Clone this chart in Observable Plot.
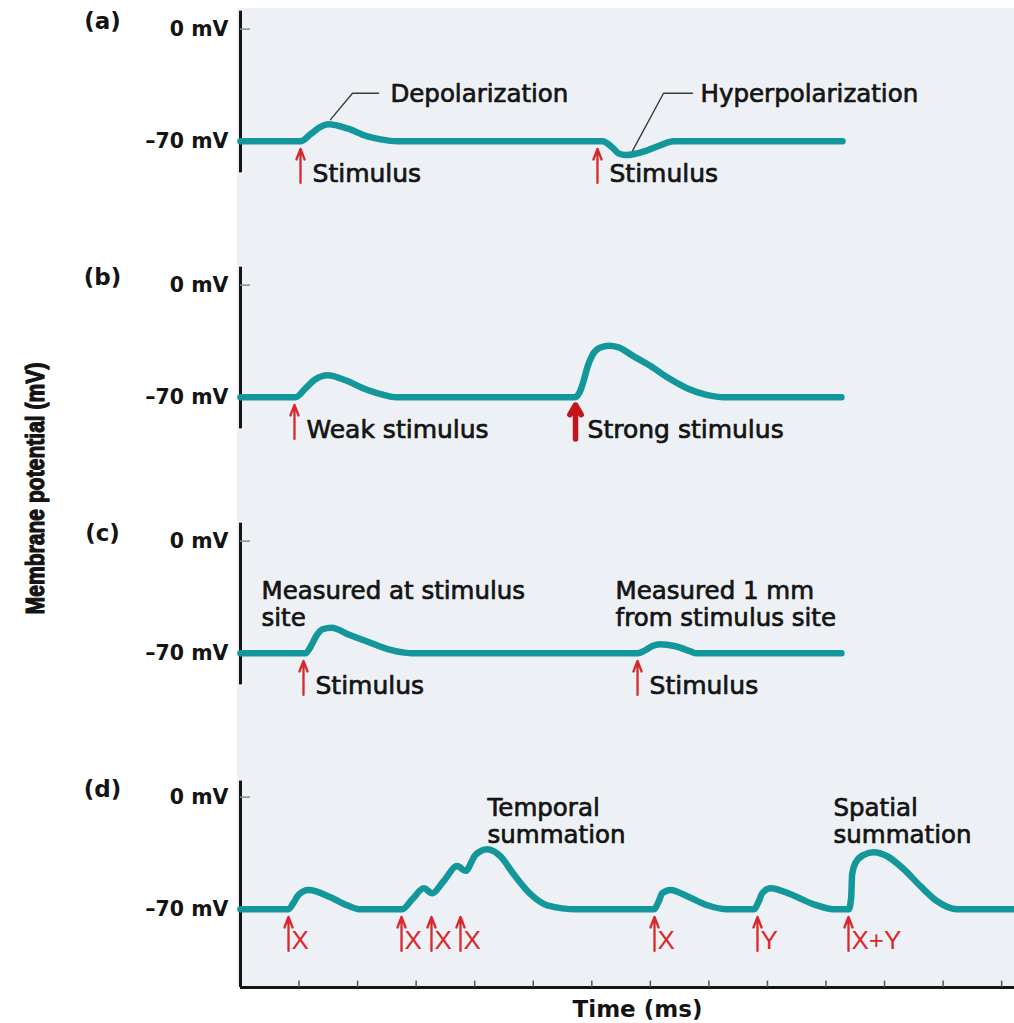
<!DOCTYPE html>
<html>
<head>
<meta charset="utf-8">
<script src="https://cdn.jsdelivr.net/npm/d3@7"></script>
<script src="https://cdn.jsdelivr.net/npm/@observablehq/plot@0.6"></script>
<style>
  body { margin: 0; background: #ffffff; }
  #chart { width: 1014px; height: 1023px; }
</style>
</head>
<body>
<div id="chart"></div>
<script>
// ---------- data ----------
const panels = ["a", "b", "c", "d"];
const panelLabels = ["(a)", "(b)", "(c)", "(d)"];
const yTicks = [0, -70];
const yTickLabels = ["0 mV", "–70 mV"];
const timeTicks = [1, 2, 3, 4, 5, 6, 7, 8, 9, 10, 11, 12, 13];

// membrane potential traces: [time, mV]
const curveA = [[0,-70],[1.025,-70],[1.196,-65.6],[1.366,-61],[1.503,-59.4],[1.827,-62],[2.169,-67],[2.391,-68.8],[2.681,-70],
  [6.183,-70],[6.354,-74],[6.456,-77.5],[6.576,-78.6],[6.951,-75.6],[7.173,-72.5],[7.395,-70],[10.282,-70]];
const curveB = [[0,-70],[0.939,-70],[1.110,-64.4],[1.281,-58.8],[1.486,-56.3],[1.793,-59.4],[2.135,-65],[2.391,-68],[2.664,-70],
  [5.705,-70],[5.790,-67],[5.858,-60],[5.927,-51],[6.012,-43.5],[6.132,-39.2],[6.285,-37.8],[6.456,-38.8],[6.695,-44],
  [7.003,-50.5],[7.310,-58],[7.635,-64.5],[7.959,-68.5],[8.267,-70],[10.264,-70]];
const curveC = [[0,-70],[1.110,-70],[1.196,-66],[1.298,-59],[1.400,-55],[1.554,-54],[1.855,-58.4],[2.186,-63],[2.528,-67.5],[2.801,-69.6],[2.938,-70],
  [6.781,-70],[6.917,-68],[7.036,-65.5],[7.156,-64.4],[7.429,-65.6],[7.686,-68.8],[7.788,-70],[10.264,-70]];
const curveD = [[0,-70],[0.820,-70],[0.905,-66],[0.991,-61],[1.161,-58],[1.537,-62.5],[1.822,-67.5],[2.050,-70],
  [2.762,-70],[2.933,-63.75],[3.131,-56.9],[3.274,-60],[3.467,-52.5],[3.701,-43],[3.843,-46],[4.014,-36],[4.214,-32.5],
  [4.441,-37],[4.663,-48],[4.953,-60.6],[5.238,-67.5],[5.751,-70],
  [7.059,-70],[7.144,-65],[7.202,-60],[7.344,-58],[7.629,-61.9],[7.971,-67.5],[8.313,-70],
  [8.767,-70],[8.852,-65],[8.910,-60],[9.052,-56.9],[9.394,-60.6],[9.792,-66.9],[10.133,-70],
  [10.389,-70],[10.430,-62.5],[10.447,-48],[10.504,-41],[10.646,-36],[10.816,-34.4],[11.045,-36.9],[11.329,-45],
  [11.614,-55.6],[11.899,-65],[12.241,-70],[13.22,-70]];

// stimuli: panel, time, label, kind
const stimuli = [
  {panel: "a", t: 1.025, label: "Stimulus", kind: "normal"},
  {panel: "a", t: 6.097, label: "Stimulus", kind: "normal"},
  {panel: "b", t: 0.922, label: "Weak stimulus", kind: "normal"},
  {panel: "b", t: 5.722, label: "Strong stimulus", kind: "strong"},
  {panel: "c", t: 1.076, label: "Stimulus", kind: "normal"},
  {panel: "c", t: 6.781, label: "Stimulus", kind: "normal"},
  {panel: "d", t: 0.820, label: "X", kind: "normal"},
  {panel: "d", t: 2.750, label: "X", kind: "normal"},
  {panel: "d", t: 3.262, label: "X", kind: "normal"},
  {panel: "d", t: 3.757, label: "X", kind: "normal"},
  {panel: "d", t: 7.071, label: "X", kind: "normal"},
  {panel: "d", t: 8.830, label: "Y", kind: "normal"},
  {panel: "d", t: 10.384, label: "X+Y", kind: "normal"}
];

// annotations
const notePanels = ["a", "a", "c", "c", "d", "d"];
const noteTimes = [2.56, 7.857, 0.359, 6.405, 4.219, 10.128];
const noteValues = [-40, -40, -39, -39, -14.7, -14.7];
const noteTexts = ["Depolarization", "Hyperpolarization", "Measured at stimulus\nsite",
  "Measured 1 mm\nfrom stimulus site", "Temporal\nsummation", "Spatial\nsummation"];
const leaderDepol = [[1.537, -56.5], [1.913, -40], [2.357, -40]];
const leaderHyper = [[6.695, -76], [7.225, -40], [7.72, -40]];

// ---------- layout / style ----------
const W = 1014, H = 1023;
const mT = 9, mB = 36, mL = 240, mR = 0;
const PX_PER_MV = 1.6;
const PX_PER_MS = 58.55;
const step = 256.1;
const plotH = H - mT - mB;
const padInner = panels.length - plotH / step;
const bw = step * (1 - padInner);
const yTop = 19.6 / PX_PER_MV;
const yBot = yTop - bw / PX_PER_MV;
const gapMV = (step - bw) / PX_PER_MV;
const tMax = (W - mL - mR) / PX_PER_MS;
const tBg = -3 / PX_PER_MS;

const TEAL = "#14979a", RED = "#d8282d", DARKRED = "#c2141a", INK = "#141414", BG = "#edf1f5";
const SANS = "'DejaVu Sans', 'Liberation Sans', sans-serif";

const curveTable = [
  ...curveA.map(([t, v]) => ({panel: "a", t, v})),
  ...curveB.map(([t, v]) => ({panel: "b", t, v})),
  ...curveC.map(([t, v]) => ({panel: "c", t, v})),
  ...curveD.map(([t, v]) => ({panel: "d", t, v}))
];
const notes = notePanels.map((p, i) => ({panel: p, t: noteTimes[i], v: noteValues[i], text: noteTexts[i]}));
const leaders = [
  ...leaderDepol.map(([t, v]) => ({panel: "a", id: "dep", t, v})),
  ...leaderHyper.map(([t, v]) => ({panel: "a", id: "hyp", t, v}))
];
const panelRows = panels.map((p, i) => ({panel: p, label: panelLabels[i]}));
const blackStim = stimuli.filter(d => d.panel !== "d");
const redStim = stimuli.filter(d => d.panel === "d");
const arrowBottom = -96, arrowTop = -96 + 34 / PX_PER_MV;

// fit the rotated y label to its measured length
const yLabelText = "Membrane potential (mV)";
const yLabelFamily = "'Liberation Sans Narrow', 'Liberation Sans', sans-serif";
function fitSize(text, family, weight, target, base) {
  const ctx = document.createElement("canvas").getContext("2d");
  ctx.font = `${weight} ${base}px ${family}`;
  return base * target / ctx.measureText(text).width;
}
const yLabelSize = Math.min(27, fitSize(yLabelText, yLabelFamily, "bold", 252, 26));
const yLabelStretch = Math.max(1, Math.min(1.3, 20 / (yLabelSize * 0.72 + 0.01) * 0.92));

const chart = Plot.plot({
  width: W, height: H,
  marginTop: mT, marginBottom: mB, marginLeft: mL, marginRight: mR,
  style: {fontFamily: SANS, background: "transparent", overflow: "visible"},
  x: {domain: [0, tMax], axis: null},
  y: {domain: [yBot, yTop]},
  fy: {domain: panels, paddingInner: padInner, paddingOuter: 0, axis: null, label: null},
  marks: [
    // panel background
    Plot.rect(panelRows, {fy: "panel", x1: tBg, x2: tMax,
      y1: d => d.panel === "d" ? yBot : yBot - gapMV - 0.5, y2: yTop + 0.5, fill: BG}),
    // y axis lines
    Plot.ruleX(panelRows, {fy: "panel", x: 0,
      y1: d => d.panel === "d" ? yBot : -89.7, y2: d => d.panel === "d" ? 10 : 11.2,
      stroke: INK, strokeWidth: 3}),
    // y ticks (inside)
    Plot.ruleY(yTicks, {y: d => d, x1: 0, x2: 0.17, stroke: "#8a8a8a", strokeWidth: 1.5}),
    // x axis line and ticks (bottom panel only)
    Plot.ruleY([{panel: "d"}], {fy: "panel", y: yBot, x1: 0, x2: tMax, stroke: INK, strokeWidth: 3}),
    Plot.ruleX(timeTicks.map(t => ({panel: "d", t})), {fy: "panel", x: "t", y1: yBot, y2: yBot + 4,
      stroke: "#555", strokeWidth: 1.5}),
    // leader lines
    Plot.line(leaders, {fy: "panel", x: "t", y: "v", z: "id", stroke: "#3a3a3a", strokeWidth: 1.4}),
    // traces
    Plot.line(curveTable, {fy: "panel", x: "t", y: "v", z: "panel", stroke: TEAL, strokeWidth: 6.5,
      curve: "monotone-x", strokeLinecap: "round", strokeLinejoin: "round"}),
    // stimulus arrows
    Plot.arrow(stimuli.filter(d => d.kind === "normal"), {fy: "panel", x: "t", y1: arrowBottom, y2: arrowTop,
      stroke: RED, strokeWidth: 2.3, headLength: 8, headAngle: 42}),
    Plot.arrow(stimuli.filter(d => d.kind === "strong"), {fy: "panel", x: "t", y1: arrowBottom, y2: arrowTop,
      stroke: DARKRED, strokeWidth: 5.5, headLength: 3.2, headAngle: 60}),
    // stimulus labels
    Plot.text(blackStim, {fy: "panel", x: "t", y: -90.3, text: "label", dx: 12, textAnchor: "start",
      lineAnchor: "middle", fontSize: 25, fill: INK, stroke: INK, strokeWidth: 0.7}),
    Plot.text(redStim, {fy: "panel", x: "t", y: -89.5, text: "label", dx: 3, textAnchor: "start",
      lineAnchor: "middle", fontSize: 26, fontFamily: "'Liberation Sans', Arial, sans-serif", fill: RED}),
    // annotations
    Plot.text(notes, {fy: "panel", x: "t", y: "v", text: "text", textAnchor: "start", lineAnchor: "middle",
      lineHeight: 1.09, fontSize: 24.5, fill: INK, stroke: INK, strokeWidth: 0.7}),
    // y tick labels
    Plot.axisY({ticks: yTicks, tickFormat: d => yTickLabels[yTicks.indexOf(d)], tickSize: 0, tickPadding: 12,
      fontSize: 20.5, fontWeight: "bold", fontFamily: SANS, color: INK, label: null}),
    // panel labels
    Plot.text(panelRows, {fy: "panel", text: "label", frameAnchor: "top-left", dx: -138, dy: 12,
      textAnchor: "middle", lineAnchor: "middle", fontSize: 23, fontWeight: "bold", fill: INK}),
    // axis titles
    Plot.text([{panel: "b"}], {fy: "panel", text: () => yLabelText, frameAnchor: "bottom-left",
      dx: -205, dy: 13, rotate: -90, textAnchor: "middle", lineAnchor: "middle",
      fontSize: yLabelSize, fontWeight: "bold", fontFamily: yLabelFamily, fill: INK, stroke: INK, strokeWidth: 1}),
    Plot.text([{panel: "d"}], {fy: "panel", x: 6.78, y: yBot, text: () => "Time (ms)", dy: 22,
      textAnchor: "middle", lineAnchor: "middle", fontSize: 23, fontWeight: "bold", fill: INK})
  ]
});

// widen the rotated title's letters, as in the reference's condensed lettering
chart.querySelectorAll("text").forEach(el => {
  if (el.textContent === yLabelText) {
    const tr = el.getAttribute("transform");
    if (tr) el.setAttribute("transform", tr + ` scale(1,${yLabelStretch.toFixed(3)})`);
  }
});
document.getElementById("chart").appendChild(chart);
</script>
</body>
</html>
